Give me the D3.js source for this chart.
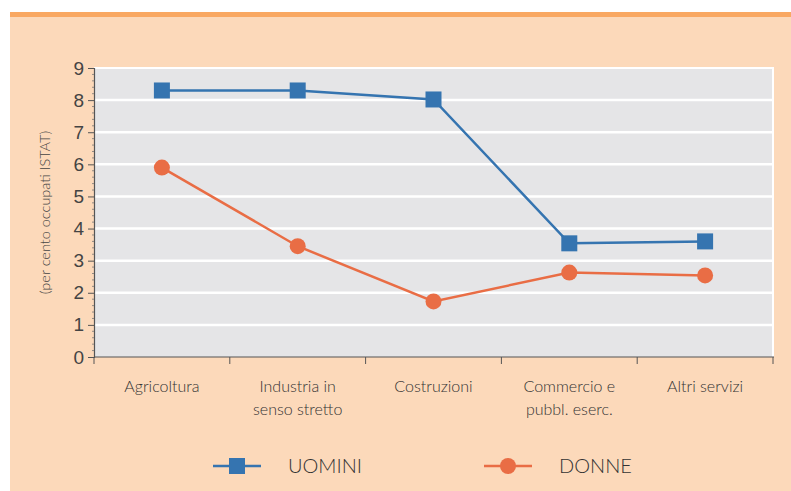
<!DOCTYPE html>
<html>
<head>
<meta charset="utf-8">
<script src="https://cdn.jsdelivr.net/npm/d3@7"></script>
<style>
  html, body { margin: 0; padding: 0; background: #fff; }
  svg { display: block; font-family: Lato, "Open Sans", sans-serif; }
</style>
</head>
<body>
<div id="chart"></div>
<script>
// Settori e valori (per cento occupati ISTAT)
const categories = [
    ['Agricoltura'],
    ['Industria in', 'senso stretto'],
    ['Costruzioni'],
    ['Commercio e', 'pubbl. eserc.'],
    ['Altri servizi']
];
const uomini = [8.3, 8.3, 8.02, 3.54, 3.6];
const donne = [5.9, 3.45, 1.73, 2.63, 2.54];
const yTicks = [0, 1, 2, 3, 4, 5, 6, 7, 8, 9];

const W = 791, H = 491;
const blue = '#3574b0', orange = '#e96d45';

const svg = d3.select('#chart').append('svg')
    .attr('width', W)
    .attr('height', H);

// Background frame
svg.append('rect').attr('x', 10).attr('y', 12).attr('width', W - 10).attr('height', H - 12)
    .attr('fill', '#fcd9ba');
svg.append('rect').attr('x', 10).attr('y', 12).attr('width', W - 10).attr('height', 5)
    .attr('fill', '#f9a862');

const plot = { left: 94, right: 773, top: 68, bottom: 357 };

const x = d3.scaleBand()
    .domain(d3.range(categories.length))
    .range([plot.left, plot.right]);
const y = d3.scaleLinear()
    .domain([0, 9])
    .range([plot.bottom, plot.top]);

// Plot area
svg.append('rect')
    .attr('x', plot.left).attr('y', plot.top - 1)
    .attr('width', plot.right - plot.left + 1).attr('height', plot.bottom - plot.top + 1)
    .attr('fill', '#fff');
svg.append('rect')
    .attr('x', plot.left).attr('y', plot.top + 1)
    .attr('width', plot.right - plot.left - 1).attr('height', plot.bottom - plot.top - 1)
    .attr('fill', '#e5e5e7');

// Gridlines
svg.append('g')
    .selectAll('line')
    .data(yTicks.filter(d => d > 0 && d < 9))
    .enter()
    .append('line')
    .attr('x1', plot.left).attr('x2', plot.right)
    .attr('y1', d => y(d)).attr('y2', d => y(d))
    .attr('stroke', '#fff')
    .attr('stroke-width', 2.5);

// Y axis
const yAxis = svg.append('g')
    .attr('transform', `translate(${plot.left},0)`)
    .call(d3.axisLeft(y).tickValues(yTicks).tickSize(6).tickPadding(4).tickFormat(d3.format('d')));
yAxis.select('.domain').attr('stroke', '#555').attr('stroke-width', 1.2);
yAxis.selectAll('.tick line').attr('stroke', '#555');
yAxis.selectAll('.tick text')
    .attr('fill', '#444')
    .attr('font-size', 19)
    .attr('font-weight', 300);

// Minor ticks
svg.append('g')
    .selectAll('line')
    .data(d3.range(0, 9.01, 0.2).filter(v => Math.abs(v - Math.round(v)) > 0.01))
    .enter()
    .append('line')
    .attr('x1', plot.left - 2).attr('x2', plot.left)
    .attr('y1', d => y(d)).attr('y2', d => y(d))
    .attr('stroke', '#777')
    .attr('stroke-width', 0.8);

// X axis
const xAxis = svg.append('g')
    .attr('transform', `translate(0,${plot.bottom})`);
xAxis.append('line')
    .attr('x1', plot.left).attr('x2', plot.right + 1)
    .attr('y1', 0).attr('y2', 0)
    .attr('stroke', '#555').attr('stroke-width', 1.2);
xAxis.selectAll('.xtick')
    .data(d3.range(categories.length + 1))
    .enter()
    .append('line')
    .attr('class', 'xtick')
    .attr('x1', i => plot.left + i * x.bandwidth())
    .attr('x2', i => plot.left + i * x.bandwidth())
    .attr('y1', 0).attr('y2', 7)
    .attr('stroke', '#555');

const labels = svg.append('g')
    .selectAll('text')
    .data(categories)
    .enter()
    .append('text')
    .attr('x', (d, i) => x(i) + x.bandwidth() / 2)
    .attr('y', 392)
    .attr('text-anchor', 'middle')
    .attr('fill', '#333')
    .attr('font-size', 16)
    .attr('font-weight', 300);
labels.selectAll('tspan')
    .data(d => d)
    .enter()
    .append('tspan')
    .attr('x', function () { return d3.select(this.parentNode).attr('x'); })
    .attr('dy', (d, i) => i === 0 ? 0 : 23)
    .text(d => d);

// Y axis title
svg.append('text')
    .attr('transform', `translate(50,${(plot.top + plot.bottom) / 2}) rotate(-90)`)
    .attr('text-anchor', 'middle')
    .attr('fill', '#444')
    .attr('font-size', 14.5)
    .attr('font-weight', 300)
    .text('(per cento occupati ISTAT)');

// Lines
const line = d3.line()
    .x((d, i) => x(i) + x.bandwidth() / 2)
    .y(d => y(d));

svg.append('path').datum(donne)
    .attr('d', line)
    .attr('fill', 'none')
    .attr('stroke', orange)
    .attr('stroke-width', 2.5);
svg.append('g').selectAll('circle')
    .data(donne)
    .enter()
    .append('circle')
    .attr('cx', (d, i) => x(i) + x.bandwidth() / 2)
    .attr('cy', d => y(d))
    .attr('r', 8)
    .attr('fill', orange);

svg.append('path').datum(uomini)
    .attr('d', line)
    .attr('fill', 'none')
    .attr('stroke', blue)
    .attr('stroke-width', 2.5);
svg.append('g').selectAll('rect')
    .data(uomini)
    .enter()
    .append('rect')
    .attr('x', (d, i) => x(i) + x.bandwidth() / 2 - 8)
    .attr('y', d => y(d) - 8)
    .attr('width', 16)
    .attr('height', 16)
    .attr('fill', blue);

// Legend
const legend = [
    { name: 'UOMINI', color: blue, shape: 'square', x: 213 },
    { name: 'DONNE', color: orange, shape: 'circle', x: 484 }
];
const ly = 466;
const lg = svg.append('g').selectAll('g')
    .data(legend)
    .enter()
    .append('g')
    .attr('transform', d => `translate(${d.x},${ly})`);
lg.append('line')
    .attr('x1', 0).attr('x2', 48)
    .attr('y1', 0).attr('y2', 0)
    .attr('stroke', d => d.color)
    .attr('stroke-width', 2.5);
lg.filter(d => d.shape === 'square').append('rect')
    .attr('x', 16).attr('y', -8).attr('width', 16).attr('height', 16)
    .attr('fill', d => d.color);
lg.filter(d => d.shape === 'circle').append('circle')
    .attr('cx', 24).attr('cy', 0).attr('r', 8)
    .attr('fill', d => d.color);
lg.append('text')
    .attr('x', 75).attr('y', 7)
    .attr('fill', '#333')
    .attr('font-size', 20)
    .attr('font-weight', 300)
    .text(d => d.name);
</script>
</body>
</html>
